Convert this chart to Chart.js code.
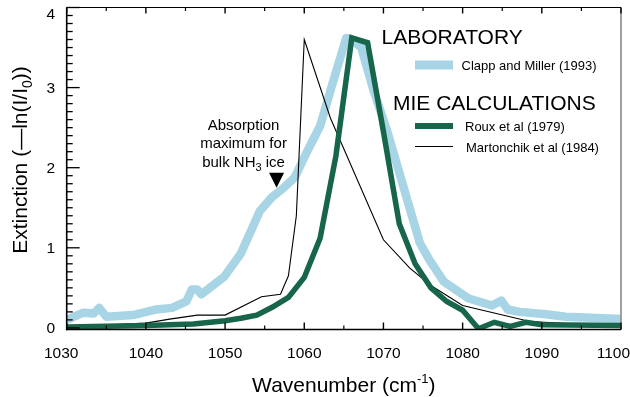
<!DOCTYPE html>
<html><head><meta charset="utf-8">
<script src="https://cdn.jsdelivr.net/npm/chart.js@4/dist/chart.umd.min.js"></script>
<style>html,body{margin:0;padding:0;background:#fff;}#wrap{width:630px;height:397px;}</style>
</head><body><div id="wrap"><canvas id="c" width="630" height="397"></canvas></div>
<script>
// ---- data ----
const clappX = [1030,1032.1,1033.4,1034.1,1035,1038.4,1041.3,1043.3,1045.1,1045.8,1046.5,1047,1049.9,1052,1052.5,1054.4,1055.9,1057.3,1058.8,1060.3,1062,1063.6,1065.3,1066,1067.2,1068.7,1070.4,1072,1073,1074.6,1075.8,1077.6,1080.7,1083.7,1084.9,1085.7,1087.2,1090.5,1093,1100];
const clappY = [0.10,0.19,0.18,0.25,0.14,0.16,0.23,0.25,0.33,0.48,0.48,0.42,0.64,0.93,1.04,1.46,1.63,1.74,1.88,2.19,2.52,3.06,3.62,3.60,3.50,2.98,2.48,1.94,1.60,1.06,0.85,0.58,0.37,0.28,0.34,0.23,0.20,0.17,0.14,0.11];

const rouxX = [1030,1040,1046,1050,1052,1054,1056,1058,1060,1062,1064,1066,1068,1070,1072,1074,1076,1078,1080,1082,1084,1086,1088,1090,1100];
const rouxY = [0.01,0.03,0.05,0.09,0.12,0.16,0.26,0.38,0.63,1.12,2.15,3.62,3.56,2.45,1.30,0.80,0.50,0.33,0.22,-0.01,0.07,0.02,0.07,0.04,0.03];

const martX = [1030,1040,1043,1046.5,1050,1054.6,1057,1058,1059,1060,1063.3,1070,1073.3,1076,1080,1088.5,1100];
const martY = [0.01,0.06,0.11,0.16,0.16,0.39,0.42,0.65,1.40,3.60,2.62,1.10,0.75,0.53,0.28,0.08,0.02];

const seriesNames = ['Clapp and Miller (1993)','Roux et al (1979)','Martonchik et al (1984)'];
const groupTitles = ['LABORATORY','MIE CALCULATIONS'];
const xTicks = [1030,1040,1050,1060,1070,1080,1090,1100];
const xMinor = [1035,1045,1055,1065,1075,1085,1095];
const yTicks = [0,1,2,3,4];
const annotLines = ['Absorption','maximum for'];
const annotPoint = {x:1056.5, y:1.75};

const FONT = '"Liberation Sans", Arial, Helvetica, sans-serif';
const BLUE = '#a8d5e5', GREEN = '#17654a';
const TICKFONT = 15.5;
function pts(xs, ys){ return xs.map((v,i)=>({x:v, y:ys[i]})); }

function richWidth(ctx, parts){
  let w=0; parts.forEach(p=>{ctx.font=p.size+'px '+FONT; w+=ctx.measureText(p.t).width;}); return w;
}
function drawRich(ctx, parts, x, y, align){
  let w = richWidth(ctx, parts);
  let cx = align==='center' ? x - w/2 : x;
  ctx.textAlign='left'; ctx.textBaseline='alphabetic';
  parts.forEach(p=>{ ctx.font=p.size+'px '+FONT; ctx.fillText(p.t, cx, y+(p.dy||0)); cx+=ctx.measureText(p.t).width; });
}
function seg(ctx,x1,y1,x2,y2){ctx.beginPath();ctx.moveTo(x1,y1);ctx.lineTo(x2,y2);ctx.stroke();}

const deco = {
  id:'deco',
  afterDatasetsDraw(chart){
    const {ctx, chartArea:a, scales:{x, y}, width:W} = chart;
    ctx.save();
    ctx.lineCap='butt';
    ctx.strokeStyle='#8a8a8a'; ctx.lineWidth=1.6;
    seg(ctx,a.right,a.top,a.right,a.bottom);
    ctx.strokeStyle='#000'; ctx.lineWidth=1.2;
    seg(ctx,a.left,a.top,a.right,a.top);
    ctx.lineWidth=1.6;
    seg(ctx,a.left,a.top,a.left,a.bottom+0.8);
    seg(ctx,a.left-0.8,a.bottom,a.right,a.bottom);
    ctx.lineWidth=1.4;
    xTicks.forEach(v=>{const p=x.getPixelForValue(v); seg(ctx,p,a.bottom,p,a.bottom-7); seg(ctx,p,a.top,p,a.top+6);});
    ctx.lineWidth=1.2;
    xMinor.forEach(v=>{const p=x.getPixelForValue(v); seg(ctx,p,a.bottom,p,a.bottom-4); seg(ctx,p,a.top,p,a.top+3.5);});
    ctx.lineWidth=1.3;
    for(let i=0;i<=40;i++){
      const v=i/10, p=y.getPixelForValue(v);
      const major = (i%10===0);
      seg(ctx,a.left,p,a.left+(major?13:6),p);
    }
    // tick labels
    ctx.fillStyle='#000';
    ctx.font=TICKFONT+'px '+FONT; ctx.textBaseline='alphabetic'; ctx.textAlign='left';
    xTicks.forEach((v,i)=>{
      const s=String(v), w=ctx.measureText(s).width;
      let cx=x.getPixelForValue(v);
      if(i===0) cx-=5.5;
      let left=Math.min(cx-w/2, W-w);
      ctx.fillText(s,left,357.5);
    });
    ctx.textAlign='right';
    yTicks.forEach(v=>{
      const p=Math.max(y.getPixelForValue(v),13.3);
      ctx.fillText(String(v),55,p+5.6);
    });
    // axis titles
    drawRich(ctx,[{t:'Wavenumber (cm',size:21},{t:'-1',size:13,dy:-9},{t:')',size:21}], (a.left+a.right)/2, 391.5, 'center');
    ctx.save();
    ctx.translate(26.5,160); ctx.rotate(-Math.PI/2);
    drawRich(ctx,[{t:'Extinction (\u2014ln(I/I',size:21},{t:'0',size:14,dy:5},{t:'))',size:21}],0,0,'center');
    ctx.restore();
    // legend
    const lx1=415, lx2=453;
    ctx.font='21px '+FONT; ctx.textAlign='left'; ctx.textBaseline='alphabetic';
    ctx.fillText(groupTitles[0], 381.5, 44.3);
    ctx.fillText(groupTitles[1], 393, 110);
    ctx.font='13px '+FONT;
    ctx.strokeStyle=BLUE; ctx.lineWidth=9; seg(ctx,lx1,65,lx2,65);
    ctx.fillText(seriesNames[0], 461.5, 69.5);
    ctx.strokeStyle=GREEN; ctx.lineWidth=6; seg(ctx,lx1,126,lx2,126);
    ctx.fillText(seriesNames[1], 465, 130.5);
    ctx.strokeStyle='#000'; ctx.lineWidth=1.1; seg(ctx,lx1,146.5,lx2,146.5);
    ctx.fillText(seriesNames[2], 466, 151.5);
    // annotation
    const tx = x.getPixelForValue(annotPoint.x), ty = y.getPixelForValue(annotPoint.y);
    ctx.beginPath(); ctx.moveTo(tx-7.5,ty-15); ctx.lineTo(tx+7.5,ty-15); ctx.lineTo(tx,ty); ctx.closePath(); ctx.fill();
    const cx = tx-33;
    ctx.font='15px '+FONT; ctx.textAlign='center';
    ctx.fillText(annotLines[0], cx, ty-57.8);
    ctx.fillText(annotLines[1], cx, ty-39.3);
    drawRich(ctx,[{t:'bulk NH',size:15},{t:'3',size:11,dy:4},{t:' ice',size:15}], cx, ty-20.5, 'center');
    ctx.restore();
  }
};

new Chart(document.getElementById('c'), {
  type:'line',
  data:{datasets:[
    {label:seriesNames[0], data:pts(clappX,clappY), borderColor:BLUE, borderWidth:8.5, order:2, borderJoinStyle:'round'},
    {label:seriesNames[2], data:pts(martX,martY), borderColor:'#000', borderWidth:1.1, order:1},
    {label:seriesNames[1], data:pts(rouxX,rouxY), borderColor:GREEN, borderWidth:5.5, order:0, borderJoinStyle:'miter'}
  ]},
  options:{
    responsive:false, animation:false, devicePixelRatio:1,
    elements:{point:{radius:0}, line:{tension:0, fill:false}},
    layout:{padding:{top:7.5,right:9,left:0,bottom:0}},
    plugins:{legend:{display:false}, tooltip:{enabled:false}},
    scales:{
      x:{type:'linear', min:1030, max:1100,
         grid:{display:false, drawTicks:false}, border:{display:false},
         afterBuildTicks:s=>{s.ticks=xTicks.map(v=>({value:v}));},
         afterFit:s=>{s.height=67.5; s.paddingLeft=0; s.paddingRight=0;},
         ticks:{display:false}},
      y:{type:'linear', min:-0.02, max:4.0,
         grid:{display:false, drawTicks:false}, border:{display:false},
         afterBuildTicks:s=>{s.ticks=yTicks.map(v=>({value:v}));},
         afterFit:s=>{s.width=66.7; s.paddingTop=0; s.paddingBottom=0;},
         ticks:{display:false}}
    }
  },
  plugins:[deco]
});
</script></body></html>
